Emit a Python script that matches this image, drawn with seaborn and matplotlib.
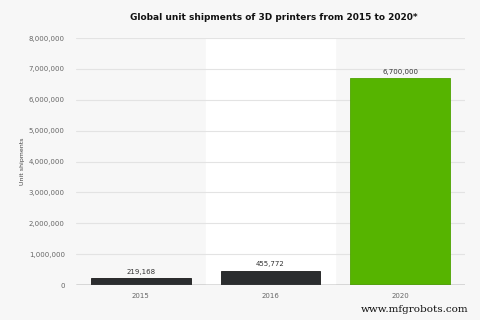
import matplotlib
matplotlib.use("Agg")
import matplotlib.pyplot as plt
import seaborn as sns
import pandas as pd

years = ["2015", "2016", "2020"]
shipments = [219168, 455772, 6700000]
value_labels = ["219,168", "455,772", "6,700,000"]
bar_colors = ["#2b2d2f", "#2b2d2f", "#56b400"]
ytick_values = [0, 1000000, 2000000, 3000000, 4000000, 5000000, 6000000, 7000000, 8000000]
ytick_labels = ["0", "1,000,000", "2,000,000", "3,000,000", "4,000,000",
                "5,000,000", "6,000,000", "7,000,000", "8,000,000"]

df = pd.DataFrame({"year": years, "shipments": shipments})

sns.set_theme(style="white")
plt.rcParams['font.family'] = ['DejaVu Sans']

fig = plt.figure(figsize=(4.8, 3.2), dpi=100)
fig.patch.set_facecolor("#f7f7f7")
ax = fig.add_axes([0.158, 0.109, 0.811, 0.772])
ax.set_facecolor("#f7f7f7")

# white band behind middle category
ax.axvspan(0.5, 1.5, color="white", zorder=0)

sns.barplot(data=df, x="year", y="shipments", hue="year", palette=bar_colors,
            legend=False, width=0.77, saturation=1, ax=ax, zorder=3,
            edgecolor="#1a1a1a", linewidth=0.6)
# green bar edge
ax.patches[-1].set_edgecolor("#4ea300")

ax.set_xlim(-0.5, 2.5)
ax.set_ylim(0, 8000000)
ax.set_yticks(ytick_values)
ax.set_yticklabels(ytick_labels, fontsize=5, color="#666666")
ax.tick_params(axis="x", labelsize=5, colors="#666666", length=0, pad=6)
ax.tick_params(axis="y", length=0, pad=8)

for y in ytick_values[1:]:
    ax.axhline(y, color="#e3e3e3", linewidth=0.8, zorder=1)
ax.axhline(0, color="#555555", linewidth=1.0, zorder=4)

for s in ax.spines.values():
    s.set_visible(False)

ax.set_xlabel("")
ax.set_ylabel("Unit shipments", fontsize=4.5, color="#444444")
ax.yaxis.set_label_coords(-0.13, 0.5)

for i, (v, lab) in enumerate(zip(shipments, value_labels)):
    ax.text(i, v + 120000, lab, ha="center", va="bottom", fontsize=5, color="#333333", zorder=5)

fig.text(0.571, 0.945, "Global unit shipments of 3D printers from 2015 to 2020*",
         ha="center", va="center", fontsize=6.5, fontweight="bold", color="#111111")

fig.text(0.975, 0.032, "www.mfgrobots.com", ha="right", va="center",
         fontsize=7.5, family="DejaVu Serif", color="#111111")

fig.savefig("out.png", dpi=100, facecolor=fig.get_facecolor())
